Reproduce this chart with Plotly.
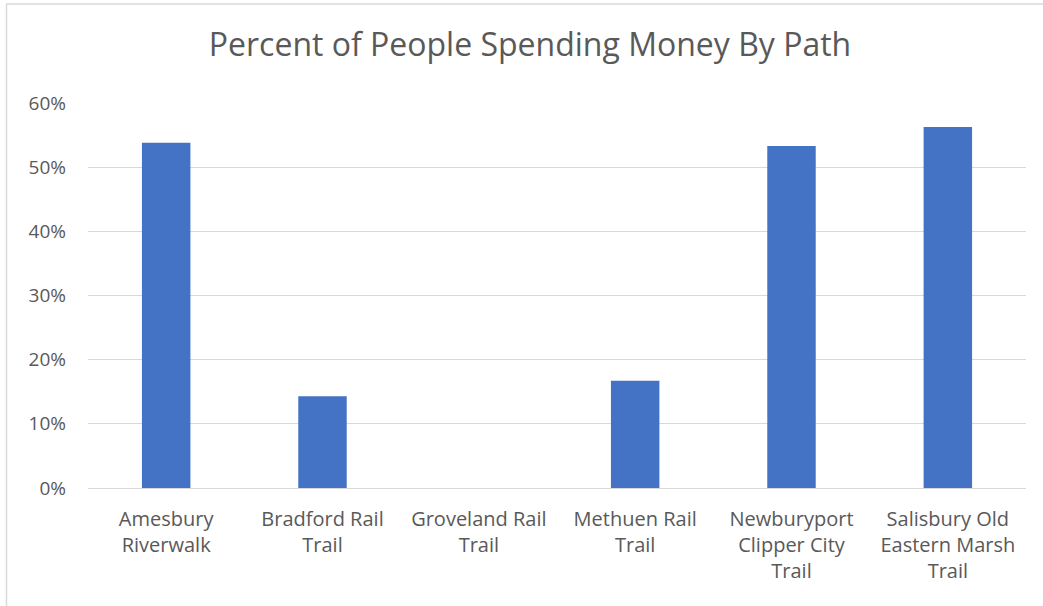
import plotly.graph_objects as go

categories = [
    "Amesbury<br>Riverwalk",
    "Bradford Rail<br>Trail",
    "Groveland Rail<br>Trail",
    "Methuen Rail<br>Trail",
    "Newburyport<br>Clipper City<br>Trail",
    "Salisbury Old<br>Eastern Marsh<br>Trail",
]
values = [0.538, 0.143, 0.0, 0.167, 0.533, 0.5625]
y_ticks = [0, 0.1, 0.2, 0.3, 0.4, 0.5, 0.6]
y_tick_labels = ["0%", "10%", "20%", "30%", "40%", "50%", "60%"]

W, H = 1043, 606
ml, mr, mt, mb = 88, 17, 103, 118
pw = W - ml - mr
ph = H - mt - mb

TEXT = "#595959"
GRID = "#d9d9d9"
FONT = "Open Sans"

fig = go.Figure(
    go.Bar(
        x=categories,
        y=values,
        marker=dict(color="#4472C4", line=dict(width=0)),
        hoverinfo="skip",
    )
)

# chart-area border (in paper coordinates relative to the plot area)
bx0 = (6.5 - ml) / pw
by1 = (H - mb - 4) / ph
fig.add_shape(
    type="rect", xref="paper", yref="paper",
    x0=bx0, x1=1.2, y0=-0.6, y1=by1,
    line=dict(color=GRID, width=1.5), fillcolor="rgba(0,0,0,0)", layer="below",
)

fig.update_layout(
    width=W, height=H,
    margin=dict(l=ml, r=mr, t=mt, b=mb, pad=0),
    paper_bgcolor="white", plot_bgcolor="white",
    bargap=0.69,
    showlegend=False,
    title=dict(
        text="Percent of People Spending Money By Path",
        x=530 / W, xanchor="center", xref="container",
        y=1 - 45 / H, yanchor="middle", yref="container",
        font=dict(family=FONT, size=32, color=TEXT),
    ),
    font=dict(family=FONT, color=TEXT),
    xaxis=dict(
        showgrid=False, zeroline=False,
        showline=True, linecolor=GRID, linewidth=1,
        ticks="", tickfont=dict(family=FONT, size=20, color=TEXT),
        ticklabelstandoff=13,
        tickangle=0,
    ),
    yaxis=dict(
        range=[0, 0.6], tickvals=y_ticks, ticktext=y_tick_labels,
        showgrid=True, gridcolor=GRID, gridwidth=1,
        zeroline=False, showline=False, ticks="",
        tickfont=dict(family=FONT, size=19, color=TEXT),
        ticklabelstandoff=21,
    ),
)

fig.write_html("out.html")
